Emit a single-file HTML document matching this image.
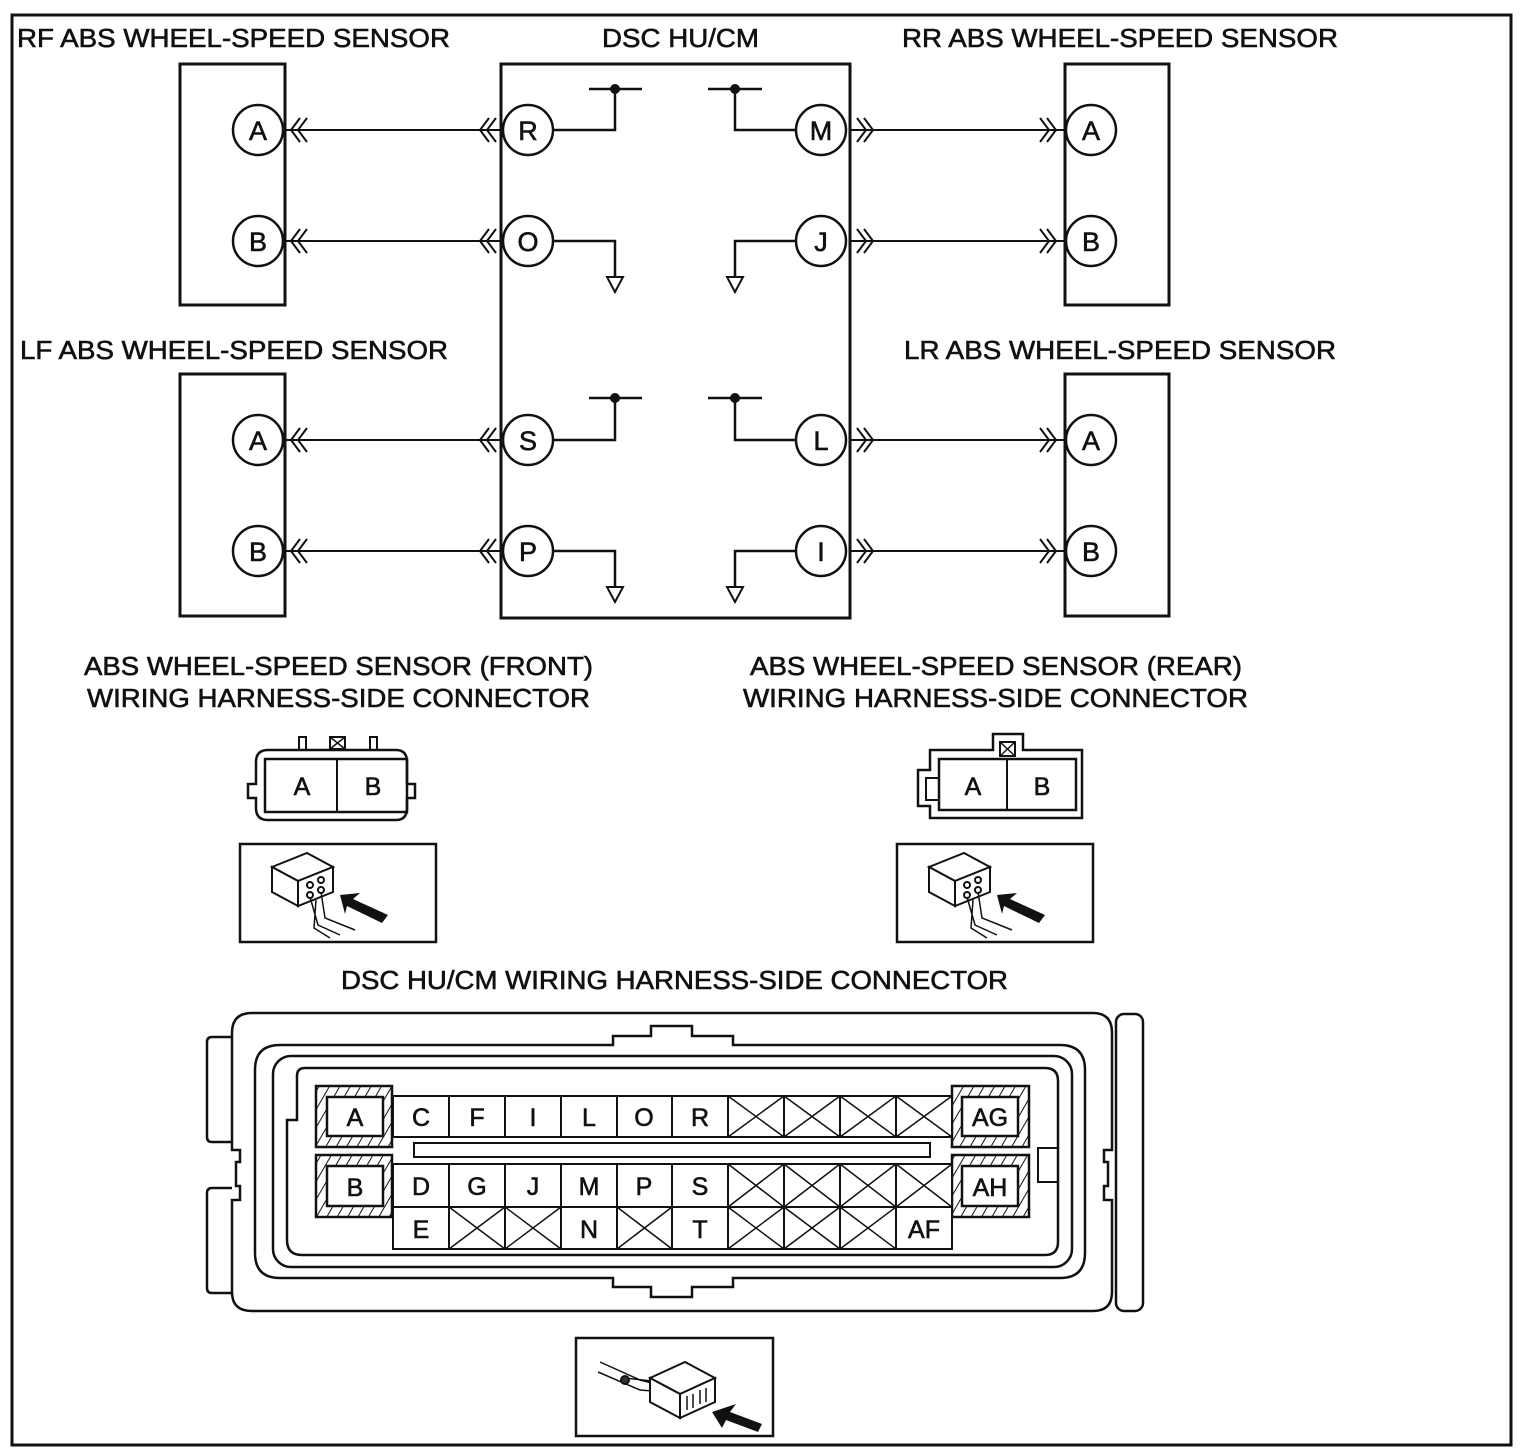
<!DOCTYPE html>
<html><head><meta charset="utf-8"><style>
html,body{margin:0;padding:0;background:#fff}
svg{display:block}
text{font-family:"Liberation Sans",Arial,sans-serif;fill:#111;stroke:#111;stroke-width:0.6}
</style></head><body>
<svg width="1526" height="1454" viewBox="0 0 1526 1454" xmlns="http://www.w3.org/2000/svg">
<defs>
<pattern id="h" width="9" height="9" patternUnits="userSpaceOnUse" patternTransform="rotate(30)">
<rect width="9" height="9" fill="#fff"/><line x1="0" y1="0" x2="0" y2="9" stroke="#111" stroke-width="2"/>
</pattern>
</defs>
<rect x="12" y="15" width="1499" height="1430" fill="none" stroke="#111" stroke-width="3"/>

<g font-size="26">
<text x="17" y="47" textLength="433" lengthAdjust="spacingAndGlyphs">RF ABS WHEEL-SPEED SENSOR</text>
<text x="602" y="47" textLength="157" lengthAdjust="spacingAndGlyphs">DSC HU/CM</text>
<text x="902" y="47" textLength="436" lengthAdjust="spacingAndGlyphs">RR ABS WHEEL-SPEED SENSOR</text>
<text x="20" y="359" textLength="428" lengthAdjust="spacingAndGlyphs">LF ABS WHEEL-SPEED SENSOR</text>
<text x="904" y="359" textLength="432" lengthAdjust="spacingAndGlyphs">LR ABS WHEEL-SPEED SENSOR</text>
<text x="84" y="675" textLength="509" lengthAdjust="spacingAndGlyphs">ABS WHEEL-SPEED SENSOR (FRONT)</text>
<text x="87" y="707" textLength="503" lengthAdjust="spacingAndGlyphs">WIRING HARNESS-SIDE CONNECTOR</text>
<text x="750" y="675" textLength="492" lengthAdjust="spacingAndGlyphs">ABS WHEEL-SPEED SENSOR (REAR)</text>
<text x="743" y="707" textLength="505" lengthAdjust="spacingAndGlyphs">WIRING HARNESS-SIDE CONNECTOR</text>
<text x="341" y="989" textLength="667" lengthAdjust="spacingAndGlyphs">DSC HU/CM WIRING HARNESS-SIDE CONNECTOR</text>
</g>

<g fill="none" stroke="#111" stroke-width="3">
<rect x="180" y="64" width="105" height="241"/>
<rect x="180" y="374" width="105" height="242"/>
<rect x="1065" y="64" width="104" height="241"/>
<rect x="1065" y="374" width="104" height="242"/>
<rect x="501" y="64" width="349" height="554"/>
</g>

<g stroke="#111" stroke-width="2" fill="none">
<line x1="285" y1="130" x2="502" y2="130"/><line x1="285" y1="241" x2="502" y2="241"/>
<line x1="285" y1="440" x2="502" y2="440"/><line x1="285" y1="551" x2="502" y2="551"/>
<line x1="850" y1="130" x2="1065" y2="130"/><line x1="850" y1="241" x2="1065" y2="241"/>
<line x1="850" y1="440" x2="1065" y2="440"/><line x1="850" y1="551" x2="1065" y2="551"/>
</g>
<g stroke="#111" stroke-width="2.5" fill="none">
<polyline points="552,130 615,130 615,89"/><line x1="589" y1="89" x2="642" y2="89"/>
<polyline points="797,130 735,130 735,89"/><line x1="708" y1="89" x2="762" y2="89"/>
<polyline points="552,241 615,241 615,277"/><polygon points="607,277 623,277 615,292" stroke-width="2"/>
<polyline points="797,241 735,241 735,277"/><polygon points="727,277 743,277 735,292" stroke-width="2"/>
<polyline points="552,440 615,440 615,398"/><line x1="589" y1="398" x2="642" y2="398"/>
<polyline points="797,440 735,440 735,398"/><line x1="708" y1="398" x2="762" y2="398"/>
<polyline points="552,551 615,551 615,587"/><polygon points="607,587 623,587 615,602" stroke-width="2"/>
<polyline points="797,551 735,551 735,587"/><polygon points="727,587 743,587 735,602" stroke-width="2"/>
</g>
<g fill="#111"><circle cx="615" cy="89" r="5"/><circle cx="735" cy="89" r="5"/><circle cx="615" cy="398" r="5"/><circle cx="735" cy="398" r="5"/></g>

<g stroke="#111" stroke-width="2" fill="none">
<g id="cl"><polyline points="300,118 291,130 300,142"/><polyline points="307,118 298,130 307,142"/><polyline points="489,118 480,130 489,142"/><polyline points="496,118 487,130 496,142"/></g>
<use href="#cl" y="111"/><use href="#cl" y="310"/><use href="#cl" y="421"/>
<g id="cr"><polyline points="857,118 866,130 857,142"/><polyline points="864,118 873,130 864,142"/><polyline points="1040,118 1049,130 1040,142"/><polyline points="1047,118 1056,130 1047,142"/></g>
<use href="#cr" y="111"/><use href="#cr" y="310"/><use href="#cr" y="421"/>
</g>

<g stroke="#111" stroke-width="2.5" fill="#fff">
<circle cx="258" cy="130" r="25"/><circle cx="258" cy="241" r="25"/><circle cx="258" cy="440" r="25"/><circle cx="258" cy="551" r="25"/>
<circle cx="1091" cy="130" r="25"/><circle cx="1091" cy="241" r="25"/><circle cx="1091" cy="440" r="25"/><circle cx="1091" cy="551" r="25"/>
<circle cx="528" cy="130" r="25"/><circle cx="528" cy="241" r="25"/><circle cx="528" cy="440" r="25"/><circle cx="528" cy="551" r="25"/>
<circle cx="821" cy="130" r="25"/><circle cx="821" cy="241" r="25"/><circle cx="821" cy="440" r="25"/><circle cx="821" cy="551" r="25"/>
</g>
<g font-size="27" text-anchor="middle" style="stroke-width:1">
<text x="258" y="140">A</text><text x="258" y="251">B</text><text x="258" y="450">A</text><text x="258" y="561">B</text>
<text x="1091" y="140">A</text><text x="1091" y="251">B</text><text x="1091" y="450">A</text><text x="1091" y="561">B</text>
<text x="528" y="140">R</text><text x="528" y="251">O</text><text x="528" y="450">S</text><text x="528" y="561">P</text>
<text x="821" y="140">M</text><text x="821" y="251">J</text><text x="821" y="450">L</text><text x="821" y="561">I</text>
</g>

<g stroke="#111" stroke-width="2.5" fill="none">
<path d="M268,750 H396 Q407,750 407,762 V784 H415 V798 H407 V808 Q407,820 396,820 H268 Q256,820 256,808 V798 H248 V784 H256 V762 Q256,750 268,750 Z"/>
<rect x="265" y="759" width="142" height="53"/>
<line x1="337" y1="759" x2="337" y2="812" stroke-width="2"/>
<rect x="299" y="737" width="7" height="13" stroke-width="2"/><rect x="370" y="737" width="7" height="13" stroke-width="2"/>
<rect x="330" y="737" width="15" height="12" stroke-width="2"/><path d="M330,737 L345,749 M345,737 L330,749" stroke-width="1.5"/>
</g>
<g font-size="25" text-anchor="middle" style="stroke-width:1"><text x="302" y="795">A</text><text x="373" y="795">B</text></g>

<g stroke="#111" stroke-width="2.5" fill="none">
<path d="M930,750 H993 V734 H1023 V750 H1082 V818 H930 V806 H918 V770 H930 Z"/>
<rect x="939" y="759" width="137" height="51"/>
<line x1="1007" y1="759" x2="1007" y2="810" stroke-width="2"/>
<rect x="926" y="778" width="13" height="22" stroke-width="2"/>
<rect x="1000" y="742" width="15" height="14" stroke-width="2"/><path d="M1000,742 L1015,756 M1015,742 L1000,756" stroke-width="1.5"/>
</g>
<g font-size="25" text-anchor="middle" style="stroke-width:1"><text x="973" y="795">A</text><text x="1042" y="795">B</text></g>

<g stroke="#111" stroke-width="2.5" fill="none">
<rect x="240" y="844" width="196" height="98"/>
<rect x="897" y="844" width="196" height="98"/>
<rect x="576" y="1338" width="197" height="98"/>
</g>
<g id="ic" stroke="#111" stroke-width="2" fill="#fff">
<polygon points="272,867 307,853 333,867 298,881"/>
<polygon points="272,867 298,881 298,906 272,892"/>
<polygon points="298,881 333,867 333,892 298,906"/>
<circle cx="310" cy="885" r="3"/><circle cx="321" cy="880" r="3"/><circle cx="310" cy="895" r="3"/><circle cx="321" cy="890" r="3"/>
<path d="M310,897 L318,925 L340,935 M321,892 L325,918 L355,930 M316,900 L314,928 L330,938" fill="none" stroke-width="1.5"/>
<polygon points="340,895 360,893 353,899 388,915 382,923 347,906 345,914" fill="#111" stroke="none"/>
</g>
<use href="#ic" x="657"/>
<g stroke="#111" stroke-width="2" fill="#fff">
<path d="M600,1362 L640,1380 L660,1385 M598,1372 L640,1390 L665,1392 M625,1378 L670,1383" fill="none" stroke-width="1.5"/>
<circle cx="625" cy="1380" r="4" fill="#333"/>
<polygon points="650,1378 685,1362 715,1378 680,1394"/>
<polygon points="650,1378 680,1394 680,1418 650,1402"/>
<polygon points="680,1394 715,1378 715,1402 680,1418"/>
<path d="M687,1396 V1410 M693,1394 V1408 M700,1390 V1404 M706,1388 V1402" stroke-width="1.5"/>
<polygon points="712,1412 736,1404 730,1412 762,1424 758,1432 726,1420 722,1428" fill="#111" stroke="none"/>
</g>

<g stroke="#111" stroke-width="2.5" fill="none">
<path d="M252,1013 H1093 Q1112,1013 1112,1033 V1150 H1104 V1162 H1108 V1186 H1104 V1200 H1112 V1292 Q1112,1311 1093,1311 H252 Q232,1311 232,1292 V1200 H240 V1186 H236 V1162 H240 V1150 H232 V1033 Q232,1013 252,1013 Z"/>
<path d="M232,1037 H212 Q207,1037 207,1042 V1137 Q207,1142 212,1142 H232"/>
<path d="M232,1188 H212 Q207,1188 207,1193 V1288 Q207,1293 212,1293 H232"/>
<rect x="1116" y="1014" width="27" height="297" rx="8"/>
<path d="M280,1045 H613 V1036 H651 V1026 H692 V1036 H733 V1045 H1060 Q1085,1045 1085,1070 V1253 Q1085,1278 1060,1278 H733 V1287 H692 V1297 H651 V1287 H613 V1278 H280 Q255,1278 255,1253 V1070 Q255,1045 280,1045 Z"/>
<rect x="273" y="1056" width="799" height="211" rx="18"/>
<path d="M305,1068 H1045 Q1058,1068 1058,1081 V1242 Q1058,1255 1045,1255 H302 Q287,1255 287,1240 V1120 H297 V1076 Q297,1068 305,1068 Z"/>
<rect x="1038" y="1148" width="20" height="34" stroke-width="2"/>
<rect x="414" y="1143" width="516" height="14" stroke-width="2"/>
</g>
<g stroke="#111" stroke-width="2.5">
<rect x="316" y="1086" width="76" height="61" fill="url(#h)"/><rect x="327" y="1097" width="56" height="39" fill="#fff"/>
<rect x="316" y="1155" width="76" height="62" fill="url(#h)"/><rect x="327" y="1166" width="56" height="40" fill="#fff"/>
<rect x="952" y="1086" width="77" height="61" fill="url(#h)"/><rect x="962" y="1097" width="56" height="39" fill="#fff"/>
<rect x="952" y="1155" width="77" height="62" fill="url(#h)"/><rect x="962" y="1166" width="56" height="40" fill="#fff"/>
</g>
<g stroke="#111" stroke-width="2" fill="#fff">
<rect x="393" y="1096" width="559" height="41"/>
<rect x="393" y="1164" width="559" height="43"/>
<rect x="393" y="1207" width="559" height="42"/>
<path d="M449,1096 V1137 M505,1096 V1137 M561,1096 V1137 M617,1096 V1137 M672,1096 V1137 M728,1096 V1137 M784,1096 V1137 M840,1096 V1137 M896,1096 V1137"/>
<path d="M449,1164 V1249 M505,1164 V1249 M561,1164 V1249 M617,1164 V1249 M672,1164 V1249 M728,1164 V1249 M784,1164 V1249 M840,1164 V1249 M896,1164 V1249"/>
<path fill="none" stroke-width="1.5" d="M728,1096 L784,1137 M784,1096 L728,1137 M784,1096 L840,1137 M840,1096 L784,1137 M840,1096 L896,1137 M896,1096 L840,1137 M896,1096 L952,1137 M952,1096 L896,1137
M728,1164 L784,1207 M784,1164 L728,1207 M784,1164 L840,1207 M840,1164 L784,1207 M840,1164 L896,1207 M896,1164 L840,1207 M896,1164 L952,1207 M952,1164 L896,1207
M449,1207 L505,1249 M505,1207 L449,1249 M505,1207 L561,1249 M561,1207 L505,1249 M617,1207 L672,1249 M672,1207 L617,1249
M728,1207 L784,1249 M784,1207 L728,1249 M784,1207 L840,1249 M840,1207 L784,1249 M840,1207 L896,1249 M896,1207 L840,1249"/>
</g>
<g font-size="25" text-anchor="middle" style="stroke-width:1">
<text x="355" y="1126">A</text><text x="355" y="1196">B</text><text x="990" y="1126">AG</text><text x="990" y="1196">AH</text>
<text x="421" y="1126">C</text><text x="477" y="1126">F</text><text x="533" y="1126">I</text><text x="589" y="1126">L</text><text x="644" y="1126">O</text><text x="700" y="1126">R</text>
<text x="421" y="1195">D</text><text x="477" y="1195">G</text><text x="533" y="1195">J</text><text x="589" y="1195">M</text><text x="644" y="1195">P</text><text x="700" y="1195">S</text>
<text x="421" y="1238">E</text><text x="589" y="1238">N</text><text x="700" y="1238">T</text><text x="924" y="1238">AF</text>
</g>
</svg>
</body></html>
